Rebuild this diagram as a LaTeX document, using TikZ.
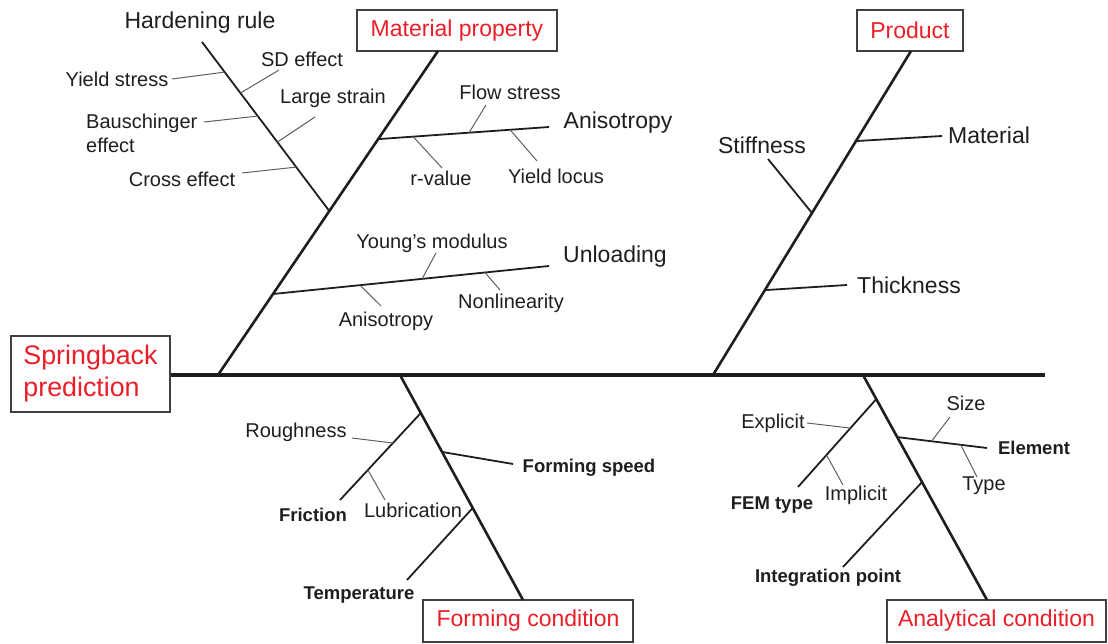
\documentclass[tikz,border=0pt]{standalone}
\usepackage{fontspec}
\setmainfont{Liberation Sans}
\usetikzlibrary{calc}
\definecolor{cred}{RGB}{235,30,40}
\definecolor{ink}{RGB}{30,30,30}
\definecolor{twiggray}{RGB}{95,95,95}
\begin{document}
\begin{tikzpicture}[x=1pt,y=-1pt,
  spineline/.style={line width=4pt, draw=ink},
  boneline/.style={line width=2.6pt, draw=ink},
  branchline/.style={line width=1.8pt, draw=ink},
  twigline/.style={line width=1pt, draw=twiggray},
  bigtext/.style={font=\fontsize{23}{27}\selectfont, text=ink, inner sep=0pt},
  smalltext/.style={font=\fontsize{20}{24}\selectfont, text=ink, inner sep=0pt},
  boldtext/.style={font=\fontsize{18.5}{22}\selectfont\bfseries, text=ink, inner sep=0pt},
  catbox/.style={draw=ink!85, line width=1.5pt, text=cred, font=\fontsize{23}{27}\selectfont, inner sep=0pt},
]
\useasboundingbox (0,0) rectangle (1108,644);

% category boxes
\node[catbox, minimum width=159pt, minimum height=76pt, align=left, font=\fontsize{26.8}{32}\selectfont] (sb) at (90.5,374) {Springback\\prediction};
\node[catbox, minimum width=200pt, minimum height=41pt] (matbox) at (457,30.5) {Material property};
\node[catbox, minimum width=106pt, minimum height=41pt] (prodbox) at (910,30.5) {Product};
\node[catbox, minimum width=210pt, minimum height=42pt] (formbox) at (528,621) {Forming condition};
\node[catbox, minimum width=219pt, minimum height=42pt] (anabox) at (996.5,621) {Analytical condition};

% spine and bones
\coordinate (sp1) at (1045,375);
\coordinate (mb0) at (218,375); \coordinate (mb1) at (438,51);
\coordinate (pb0) at (713,375); \coordinate (pb1) at (911,51);
\coordinate (fb0) at (400,375); \coordinate (fb1) at (523,600);
\coordinate (ab0) at (863,375); \coordinate (ab1) at (987,600);
\draw[spineline] (sb.east |- sp1) -- (sp1);
\draw[boneline] (mb0) -- (mb1);
\draw[boneline] (pb0) -- (pb1);
\draw[boneline] (fb0) -- (fb1);
\draw[boneline] (ab0) -- (ab1);

% ---------- Material property ----------
\coordinate (h0) at (202,42);
\coordinate (h1) at ($(mb0)!0.506!(mb1)$);
\draw[branchline] (h0) -- (h1);
\node[bigtext] (tHard) at (200,23) {Hardening rule};

\coordinate (hy) at ($(h0)!0.178!(h1)$); \coordinate (hy1) at (172,79);
\coordinate (hs) at ($(h0)!0.302!(h1)$); \coordinate (hs1) at (279,70);
\coordinate (hb) at ($(h0)!0.438!(h1)$); \coordinate (hb1) at (204,122);
\coordinate (hl) at ($(h0)!0.592!(h1)$); \coordinate (hl1) at (315,117);
\coordinate (hc) at ($(h0)!0.740!(h1)$); \coordinate (hc1) at (242,173);
\draw[twigline] (hy) -- (hy1);
\draw[twigline] (hs) -- (hs1);
\draw[twigline] (hb) -- (hb1);
\draw[twigline] (hl) -- (hl1);
\draw[twigline] (hc) -- (hc1);
\node[smalltext] (tYield) at (117,79) {Yield stress};
\node[smalltext] (tSD) at (302,59) {SD effect};
\node[smalltext, align=left, anchor=west, font=\fontsize{20}{24}\selectfont] (tBau) at (86,133) {Bauschinger\\effect};
\node[smalltext] (tLarge) at (333,98) {Large strain};
\node[smalltext] (tCross) at (182,179) {Cross effect};

\coordinate (a0) at ($(mb0)!0.728!(mb1)$); \coordinate (a1) at (549,127);
\draw[branchline] (a0) -- (a1);
\node[bigtext] (tAniso) at (618,123) {Anisotropy};
\coordinate (af) at ($(a0)!0.532!(a1)$); \coordinate (af1) at (486,105);
\coordinate (ar) at ($(a0)!0.205!(a1)$); \coordinate (ar1) at (442,168);
\coordinate (ay) at ($(a0)!0.772!(a1)$); \coordinate (ay1) at (537,161);
\draw[twigline] (af) -- (af1);
\draw[twigline] (ar) -- (ar1);
\draw[twigline] (ay) -- (ay1);
\node[smalltext] (tFlow) at (510,92) {Flow stress};
\node[smalltext] (tRval) at (441,178) {r-value};
\node[smalltext] (tLocus) at (556,176) {Yield locus};

\coordinate (u0) at ($(mb0)!0.25!(mb1)$); \coordinate (u1) at (549,266);
\draw[branchline] (u0) -- (u1);
\node[bigtext] (tUnl) at (615,257) {Unloading};
\coordinate (uy) at ($(u0)!0.540!(u1)$); \coordinate (uy1) at (436,253);
\coordinate (ua) at ($(u0)!0.315!(u1)$); \coordinate (ua1) at (381,306);
\coordinate (un) at ($(u0)!0.768!(u1)$); \coordinate (un1) at (500,290);
\draw[twigline] (uy) -- (uy1);
\draw[twigline] (ua) -- (ua1);
\draw[twigline] (un) -- (un1);
\node[smalltext] (tYoung) at (432,243) {Young’s modulus};
\node[smalltext] (tAniso2) at (386,321) {Anisotropy};
\node[smalltext] (tNonlin) at (511,303) {Nonlinearity};

% ---------- Product ----------
\coordinate (pm) at ($(pb0)!0.722!(pb1)$); \coordinate (pm1) at (942,136);
\coordinate (ps) at ($(pb0)!0.5!(pb1)$); \coordinate (ps1) at (768,159);
\coordinate (pt) at ($(pb0)!0.262!(pb1)$); \coordinate (pt1) at (847,285);
\draw[branchline] (pm) -- (pm1);
\draw[branchline] (ps) -- (ps1);
\draw[branchline] (pt) -- (pt1);
\node[bigtext] (tMat) at (989,135) {Material};
\node[bigtext] (tStiff) at (762,145) {Stiffness};
\node[bigtext] (tThick) at (909,285) {Thickness};

% ---------- Forming condition ----------
\coordinate (fr0) at ($(fb0)!0.169!(fb1)$); \coordinate (fr1) at (340,500);
\coordinate (fs0) at ($(fb0)!0.342!(fb1)$); \coordinate (fs1) at (513,464);
\coordinate (ft0) at ($(fb0)!0.591!(fb1)$); \coordinate (ft1) at (407,580);
\draw[branchline] (fr0) -- (fr1);
\draw[branchline] (fs0) -- (fs1);
\draw[branchline] (ft0) -- (ft1);
\coordinate (fro) at ($(fr0)!0.345!(fr1)$); \coordinate (fro1) at (352,438);
\coordinate (frl) at ($(fr0)!0.655!(fr1)$); \coordinate (frl1) at (385,500);
\draw[twigline] (fro) -- (fro1);
\draw[twigline] (frl) -- (frl1);
\node[smalltext] (tRough) at (296,432) {Roughness};
\node[smalltext] (tLub) at (413,510) {Lubrication};
\node[boldtext] (tFric) at (313,515) {Friction};
\node[boldtext] (tSpeed) at (589,468) {Forming speed};
\node[boldtext] (tTemp) at (359,595) {Temperature};

% ---------- Analytical condition ----------
\coordinate (fe0) at ($(ab0)!0.107!(ab1)$); \coordinate (fe1) at (798,487);
\coordinate (el0) at ($(ab0)!0.276!(ab1)$); \coordinate (el1) at (987,448);
\coordinate (ip0) at ($(ab0)!0.476!(ab1)$); \coordinate (ip1) at (843,567);
\draw[branchline] (fe0) -- (fe1);
\draw[branchline] (el0) -- (el1);
\draw[branchline] (ip0) -- (ip1);
\coordinate (fex) at ($(fe0)!0.33!(fe1)$); \coordinate (fex1) at (807,423);
\coordinate (fim) at ($(fe0)!0.636!(fe1)$); \coordinate (fim1) at (843,485);
\coordinate (els) at ($(el0)!0.382!(el1)$); \coordinate (els1) at (950,417);
\coordinate (elt) at ($(el0)!0.708!(el1)$); \coordinate (elt1) at (977,477);
\draw[twigline] (fex) -- (fex1);
\draw[twigline] (fim) -- (fim1);
\draw[twigline] (els) -- (els1);
\draw[twigline] (elt) -- (elt1);
\node[smalltext] (tExpl) at (773,423) {Explicit};
\node[smalltext] (tImpl) at (856,495) {Implicit};
\node[boldtext] (tFEM) at (772,505) {FEM type};
\node[smalltext] (tSize) at (966,403) {Size};
\node[boldtext] (tElem) at (1034,448) {Element};
\node[smalltext] (tType) at (984,486) {Type};
\node[boldtext] (tInt) at (828,578) {Integration point};
\end{tikzpicture}
\end{document}
